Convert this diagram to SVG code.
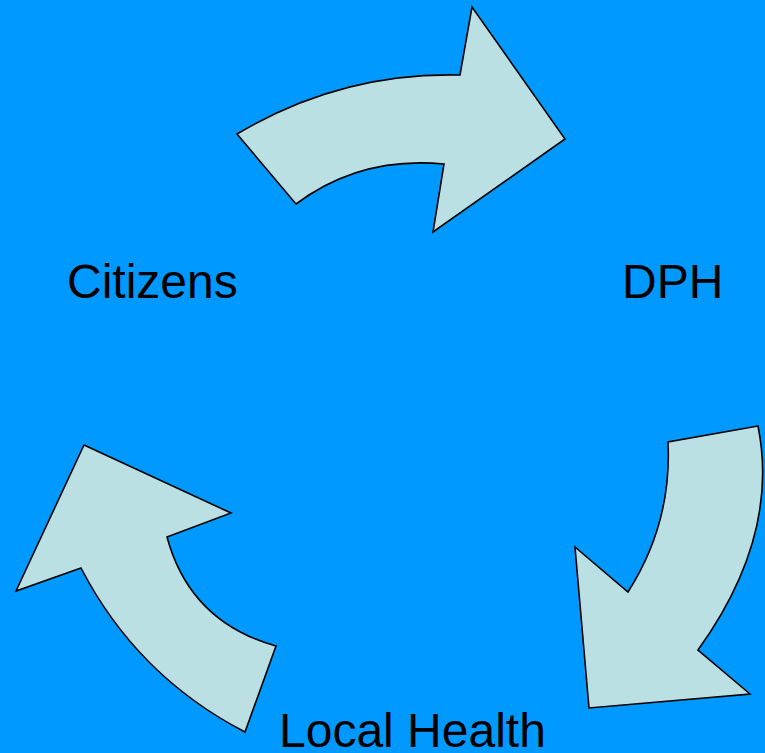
<svg xmlns="http://www.w3.org/2000/svg" width="765" height="753" viewBox="0 0 765 753">
<style>
.arrow{fill:#BAE0E3;stroke:#000;stroke-width:1.6;stroke-linejoin:miter}
.lbl{font-family:"Liberation Sans",Arial,sans-serif;font-size:48px;fill:#000}
</style>
<rect width="765" height="753" fill="#0099FF"/>
<g id="connectors">
<path id="arrow-top" class="arrow" d="M237,134 Q341,72 460,75 L472,7 L565,139 L433,232 L444,164 Q360,156 296,204 Z"/>
<path id="arrow-right" class="arrow" d="M758,426 L668,442 Q672,523 628,592 L575,547 L589,708 L750,694 L698,650 Q780,536 758,426 Z"/>
<path id="arrow-left" class="arrow" d="M84,445 L231,513 L167,537 Q190,622 276,646 L245,732 Q137,676 81,568 L16,591 Z"/>
</g>
<g id="citizens"><text class="lbl" x="67" y="298">Citizens</text></g>
<g id="dph"><text class="lbl" x="622" y="298">DPH</text></g>
<g id="local-health"><text class="lbl" x="279" y="747">Local Health</text></g>
</svg>
